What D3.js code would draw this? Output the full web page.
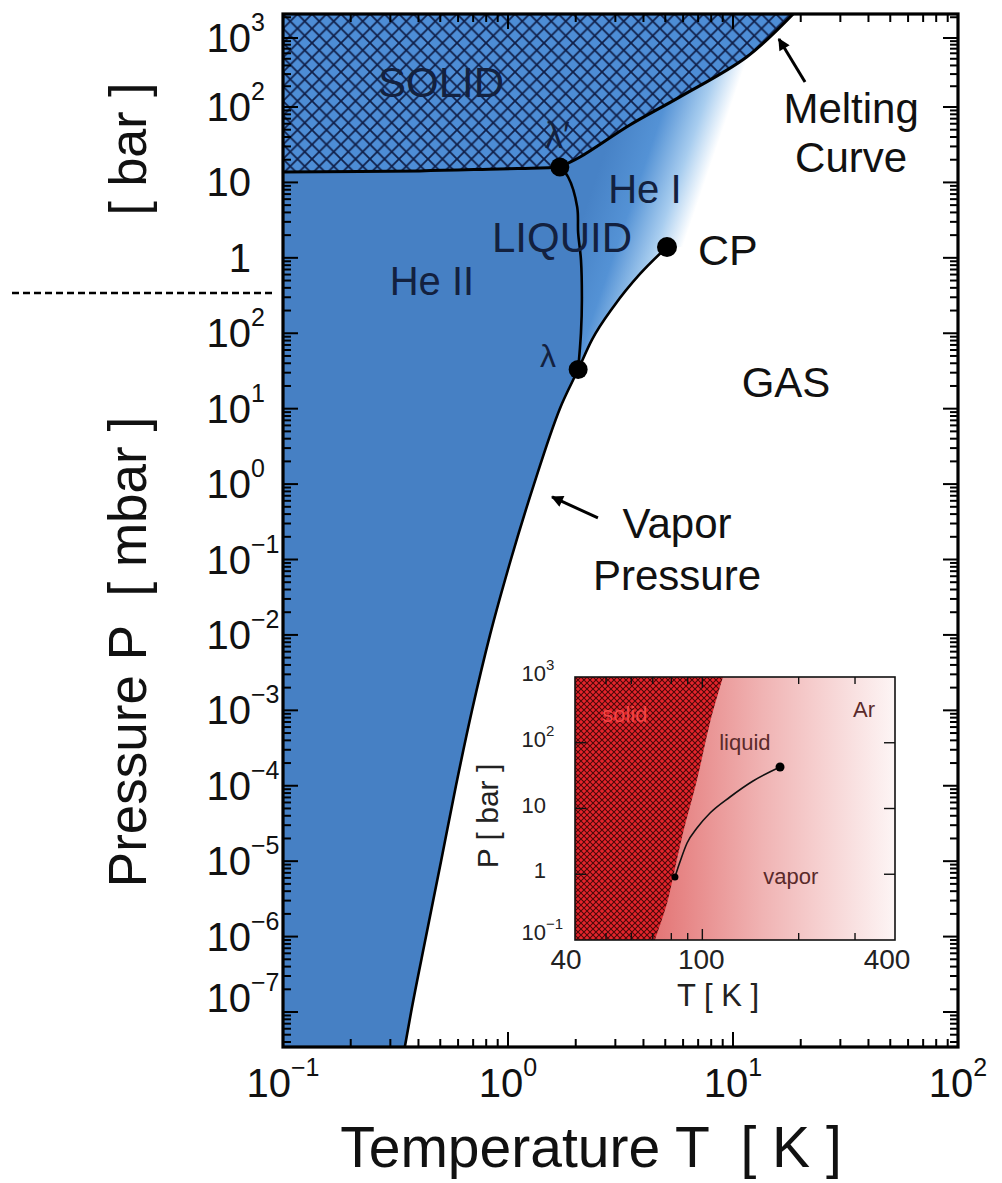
<!DOCTYPE html>
<html><head><meta charset="utf-8">
<script src="https://cdn.jsdelivr.net/npm/d3@7"></script>
<style>
body{margin:0;background:#fff}
svg{display:block}
text{font-family:"Liberation Sans",Arial,Helvetica,sans-serif}
</style>
</head><body>
<svg id="c" width="1002" height="1183"></svg>
<script>
// ---------------- DATA (T in K, P in bar) ----------------
// He-4 saturated vapour pressure curve, from below the plot floor up to the critical point
const vaporT = [0.345, 0.371, 0.432, 0.504, 0.587, 0.692, 0.832, 1.03, 1.305, 1.70, 2.05, 2.36, 2.96, 3.86, 5.09];
const vaporP = [3.0e-11, 1e-10, 1e-9, 1e-8, 1e-7, 1e-6, 1e-5, 1e-4, 1e-3, 1e-2, 0.033, 0.0815, 0.230, 0.611, 1.39];
const lambdaIndex = 10; // vapor point that is the lambda point
// lambda line from lambda' (on melting curve) down to lambda (on vapor curve)
const lambdaT = [1.70, 1.85, 2.03, 2.05, 2.11, 2.13, 2.11, 2.05];
const lambdaP = [16.0, 11.8, 4.73, 2.14, 0.94, 0.277, 0.101, 0.033];
// melting curve: flat part (He II / solid) and rising part (He I / solid)
const meltLowT = [0.1, 0.406, 0.921, 1.39, 1.70];
const meltLowP = [13.75, 14.2, 15.1, 15.5, 16.0];
const meltHighT = [1.70, 2.09, 3.48, 5.81, 11.5, 18.5];
const meltHighP = [16.0, 21.7, 57.7, 140, 530, 2230];
// special points
const pointNames = ["lambda'", "lambda", "CP"];
const pointT = [1.70, 2.05, 5.09];
const pointP = [16.0, 0.033, 1.39];

// axis ticks
const xTickValues = [0.1, 1, 10, 100];
const xTickExp = ["\u22121", "0", "1", "2"];
const yTickValues = [1e3, 1e2, 1e1, 1, 1e-1, 1e-2, 1e-3, 1e-4, 1e-5, 1e-6, 1e-7, 1e-8, 1e-9, 1e-10];
const yTickBase = ["10", "10", "10", "1", "10", "10", "10", "10", "10", "10", "10", "10", "10", "10"];
const yTickExp = ["3", "2", "", "", "2", "1", "0", "\u22121", "\u22122", "\u22123", "\u22124", "\u22125", "\u22126", "\u22127"];

// region / annotation labels (data coordinates of text baseline)
const labelText = ["SOLID", "He II", "LIQUID", "He I", "CP", "GAS", "Melting", "Curve", "Vapor", "Pressure", "\u03bb\u2032", "\u03bb"];
const labelT = [0.504, 0.459, 1.738, 4.06, 6.99, 17.2, 33.5, 33.5, 5.64, 5.64, 1.46, 1.388];
const labelP = [140, 0.322, 1.197, 5.34, 0.805, 0.0143, 61.4, 13.7, 1.94e-4, 3.96e-5, 28.6, 0.0358];
// arrows [tail, head]
const arrowT = [[20.9, 16.0], [2.51, 1.57]];
const arrowP = [[230, 967], [3.56e-4, 6.76e-4]];

// Argon inset
const arMeltT = [71.1, 77.6, 80.9, 87.0, 96.2, 105.6, 116];
const arMeltP = [0.1, 0.366, 0.877, 4.24, 27.1, 200, 1000];
const arVapT = [82.1, 85.1, 89.6, 96.2, 105.7, 122.0, 144.0, 174.9];
const arVapP = [0.908, 1.536, 2.99, 5.05, 8.54, 14.96, 26.2, 42.8];
const arPointT = [82.1, 174.9];
const arPointP = [0.908, 42.8];
const arXTickValues = [40, 100, 400];
const arXTickLabels = ["40", "100", "400"];
const arXMinor = [50, 60, 70, 80, 90, 200, 300];
const arYTickValues = [0.1, 1, 10, 100, 1000];
const arYTickBase = ["10", "1", "10", "10", "10"];
const arYTickExp = ["\u22121", "", "", "2", "3"];
const arLabelText = ["solid", "liquid", "Ar", "vapor"];
const arLabelT = [57.3, 135.8, 320, 189];
const arLabelP = [207, 77.6, 246, 0.711];

// ---------------- LAYOUT ----------------
const svg = d3.select("#c");
const P = {left: 283, right: 958, top: 14, bottom: 1047};
const x = d3.scaleLog().domain([0.1, 100]).range([P.left, P.right]);
const y = d3.scaleLog().domain([Math.pow(10, 3.348), 1e3, 1e2, Math.pow(10, -10.464)]).range([P.top, 38, 107, P.bottom]);
const pAbove = Math.pow(10, 3.6), pBelow = Math.pow(10, -10.8);
const navy = "#13213f";

const zip = (a, b) => a.map((v, i) => [v, b[i]]);
const curve = d3.line().x(d => x(d[0])).y(d => y(d[1])).curve(d3.curveCatmullRom.alpha(0.5));
const mono = d3.line().x(d => x(d[0])).y(d => y(d[1])).curve(d3.curveMonotoneX);
const straight = d3.line().x(d => x(d[0])).y(d => y(d[1]));
const join = parts => parts.map((p, i) => i ? p.replace(/^M/, "L") : p).join("") + "Z";
const last = a => a[a.length - 1];

const vapor = zip(vaporT, vaporP);
const vaporLow = vapor.slice(0, lambdaIndex + 1);
const vaporHigh = vapor.slice(lambdaIndex);
const lam = zip(lambdaT, lambdaP);
const meltLow = zip(meltLowT, meltLowP);
const meltHigh = zip(meltHighT, meltHighP);

const defs = svg.append("defs");
defs.append("clipPath").attr("id", "plotClip").append("rect")
  .attr("x", P.left).attr("y", P.top).attr("width", P.right - P.left).attr("height", P.bottom - P.top);

// hatch for solid
const hs = 14.5;
const hatch = defs.append("pattern").attr("id", "hatch").attr("patternUnits", "userSpaceOnUse")
  .attr("width", hs).attr("height", hs).attr("x", P.left).attr("y", P.top);
hatch.append("rect").attr("width", hs).attr("height", hs).attr("fill", "#4d8dd6");
hatch.append("path").attr("d", `M0,0L${hs},${hs}M${hs},0L0,${hs}`)
  .attr("stroke", "#10204a").attr("stroke-width", 1.8).attr("stroke-linecap", "square");

// He I gradient
const g1 = defs.append("linearGradient").attr("id", "heI").attr("gradientUnits", "userSpaceOnUse")
  .attr("x1", x(2.41)).attr("y1", y(9.8)).attr("x2", x(6.64)).attr("y2", y(3.48));
[[0, "#4782c6"], [0.4, "#5492d5"], [0.75, "#a8cdef"], [1, "#ffffff"]].forEach(s =>
  g1.append("stop").attr("offset", s[0]).attr("stop-color", s[1]));

const main = svg.append("g").attr("clip-path", "url(#plotClip)");

// He I region (gradient)
main.append("path").attr("fill", "url(#heI)").attr("d", join([
  mono(vaporHigh),
  straight([last(vaporHigh), [100, last(vaporHigh)[1]], [100, pAbove], [last(meltHighT), pAbove], last(meltHigh)]),
  curve(meltHigh.slice().reverse()),
  straight([meltHigh[0], [1.0, meltHigh[0][1]], [1.0, vaporHigh[0][1]], vaporHigh[0]])
]));
// He II region
main.append("path").attr("fill", "#4680c4").attr("d", join([
  straight([[0.1, pBelow], [vaporLow[0][0], pBelow], vaporLow[0]]),
  mono(vaporLow),
  curve(lam.slice().reverse()),
  curve(meltLow.slice().reverse()),
  straight([meltLow[0], [0.1, pBelow]])
]));
// Solid region
main.append("path").attr("fill", "url(#hatch)").attr("d", join([
  straight([[0.1, pAbove], [last(meltHighT), pAbove], last(meltHigh)]),
  curve(meltHigh.slice().reverse()),
  curve(meltLow.slice().reverse()),
  straight([meltLow[0], [0.1, pAbove]])
]));

// curves
main.append("path").attr("d", curve(meltLow)).attr("fill", "none").attr("stroke", "#000").attr("stroke-width", 3);
main.append("path").attr("d", curve(meltHigh)).attr("fill", "none").attr("stroke", "#000").attr("stroke-width", 3);
main.append("path").attr("d", curve(lam)).attr("fill", "none").attr("stroke", "#000").attr("stroke-width", 2.6);
main.append("path").attr("d", mono(vapor)).attr("fill", "none").attr("stroke", "#000").attr("stroke-width", 2.6);

// points
main.selectAll("circle.pt").data(pointT).join("circle").attr("class", "pt")
  .attr("cx", d => x(d)).attr("cy", (d, i) => y(pointP[i])).attr("r", (d, i) => i === 2 ? 10 : 9.5).attr("fill", "#000");

// frame
svg.append("rect").attr("x", P.left).attr("y", P.top).attr("width", P.right - P.left).attr("height", P.bottom - P.top)
  .attr("fill", "none").attr("stroke", "#000").attr("stroke-width", 3.2);

// ticks
const tg = svg.append("g").attr("stroke", "#000").attr("stroke-width", 2);
const yMinor = [];
for (let n = -11; n <= 3; n++) for (let k = 2; k <= 9; k++) {
  const v = k * Math.pow(10, n);
  if (y(v) > P.top + 1 && y(v) < P.bottom - 1) yMinor.push(v);
}
const xMinor = [];
for (let n = -1; n <= 1; n++) for (let k = 2; k <= 9; k++) xMinor.push(k * Math.pow(10, n));
const majL = 15, minL = 8;
yTickValues.forEach(v => {
  tg.append("line").attr("x1", P.left).attr("x2", P.left + majL).attr("y1", y(v)).attr("y2", y(v));
  tg.append("line").attr("x1", P.right).attr("x2", P.right - majL).attr("y1", y(v)).attr("y2", y(v));
});
yMinor.forEach(v => {
  tg.append("line").attr("x1", P.left).attr("x2", P.left + minL).attr("y1", y(v)).attr("y2", y(v));
  tg.append("line").attr("x1", P.right).attr("x2", P.right - minL).attr("y1", y(v)).attr("y2", y(v));
});
xTickValues.forEach(v => {
  tg.append("line").attr("x1", x(v)).attr("x2", x(v)).attr("y1", P.bottom).attr("y2", P.bottom - majL);
  tg.append("line").attr("x1", x(v)).attr("x2", x(v)).attr("y1", P.top).attr("y2", P.top + majL);
});
xMinor.forEach(v => {
  tg.append("line").attr("x1", x(v)).attr("x2", x(v)).attr("y1", P.bottom).attr("y2", P.bottom - minL);
  tg.append("line").attr("x1", x(v)).attr("x2", x(v)).attr("y1", P.top).attr("y2", P.top + minL);
});

// y tick labels
const labG = svg.append("g").attr("fill", "#111");
yTickValues.forEach((v, i) => {
  const by = y(v) + 14 - (i === yTickValues.length - 1 ? 14 : 0);
  labG.append("text").attr("x", 251).attr("y", by).attr("text-anchor", "end").attr("font-size", 40).text(yTickBase[i]);
  if (yTickExp[i]) labG.append("text").attr("x", 251).attr("y", by - 21).attr("font-size", 25).text(yTickExp[i]);
});
// x tick labels
xTickValues.forEach((v, i) => {
  const t = labG.append("text").attr("x", x(v)).attr("y", 1097).attr("text-anchor", "middle").attr("font-size", 40);
  t.append("tspan").text("10");
  t.append("tspan").attr("dy", -21).attr("font-size", 25).text(xTickExp[i]);
});

// axis titles
svg.append("text").attr("transform", "translate(146,652) rotate(-90)").attr("text-anchor", "middle")
  .attr("font-size", 53).attr("fill", "#111").attr("xml:space", "preserve").text("Pressure P  [ mbar ]");
svg.append("text").attr("transform", "translate(146,149) rotate(-90)").attr("text-anchor", "middle")
  .attr("font-size", 52).attr("fill", "#111").attr("xml:space", "preserve").text("[ bar ]");
svg.append("text").attr("x", 591).attr("y", 1167).attr("text-anchor", "middle")
  .attr("font-size", 57).attr("fill", "#111").attr("xml:space", "preserve").text("Temperature T  [ K ]");
// dashed separator
svg.append("line").attr("x1", 12).attr("x2", 274).attr("y1", y(0.342)).attr("y2", y(0.342))
  .attr("stroke", "#000").attr("stroke-width", 2.6).attr("stroke-dasharray", "7,4");

// region labels
const labStyle = [
  {s: 42, c: navy, a: "middle"}, {s: 40, c: navy, a: "middle"}, {s: 42, c: navy, a: "middle"}, {s: 40, c: navy, a: "middle"},
  {s: 43, c: "#111", a: "start"}, {s: 42, c: "#111", a: "middle"}, {s: 42, c: "#111", a: "middle"}, {s: 42, c: "#111", a: "middle"},
  {s: 42, c: "#111", a: "middle"}, {s: 42, c: "#111", a: "middle"}, {s: 36, c: navy, a: "start"}, {s: 32, c: navy, a: "start"}
];
labelText.forEach((t, i) => {
  svg.append("text").attr("x", x(labelT[i])).attr("y", y(labelP[i])).attr("text-anchor", labStyle[i].a)
    .attr("font-size", labStyle[i].s).attr("fill", labStyle[i].c).text(t);
});

// arrows
defs.append("marker").attr("id", "ah").attr("viewBox", "0 0 10 10").attr("refX", 9).attr("refY", 5)
  .attr("markerWidth", 5).attr("markerHeight", 4).attr("orient", "auto").attr("markerUnits", "strokeWidth")
  .append("path").attr("d", "M0,0L10,5L0,10Z").attr("fill", "#000");
arrowT.forEach((a, i) => {
  svg.append("line").attr("x1", x(a[0])).attr("y1", y(arrowP[i][0])).attr("x2", x(a[1])).attr("y2", y(arrowP[i][1]))
    .attr("stroke", "#000").attr("stroke-width", 3).attr("marker-end", "url(#ah)");
});

// ---------------- INSET (Argon) ----------------
const I = {left: 575, right: 895, top: 677, bottom: 940};
const xi = d3.scaleLog().domain([40, 400]).range([I.left, I.right]);
const yi = d3.scaleLog().domain([0.1, 1000]).range([I.bottom, I.top]);
const icurve = d3.line().x(d => xi(d[0])).y(d => yi(d[1])).curve(d3.curveCatmullRom.alpha(0.5));
const imono = d3.line().x(d => xi(d[0])).y(d => yi(d[1])).curve(d3.curveMonotoneX);
const istraight = d3.line().x(d => xi(d[0])).y(d => yi(d[1]));
const arMelt = zip(arMeltT, arMeltP), arVap = zip(arVapT, arVapP);

defs.append("clipPath").attr("id", "insetClip").append("rect")
  .attr("x", I.left).attr("y", I.top).attr("width", I.right - I.left).attr("height", I.bottom - I.top);
const rp = 6;
const red = defs.append("pattern").attr("id", "redHatch").attr("patternUnits", "userSpaceOnUse")
  .attr("width", rp).attr("height", rp).attr("x", I.left).attr("y", I.top);
red.append("rect").attr("width", rp).attr("height", rp).attr("fill", "#e4242c");
red.append("path").attr("d", `M0,0L${rp},${rp}M${rp},0L0,${rp}`).attr("stroke", "#4a0707").attr("stroke-width", 1.05);
const g2 = defs.append("linearGradient").attr("id", "arGrad").attr("gradientUnits", "userSpaceOnUse")
  .attr("x1", xi(70)).attr("y1", 0).attr("x2", xi(400)).attr("y2", 0);
[[0, "#e37474"], [0.45, "#f0b3b3"], [1, "#fdf5f5"]].forEach(s =>
  g2.append("stop").attr("offset", s[0]).attr("stop-color", s[1]));

const ins = svg.append("g").attr("clip-path", "url(#insetClip)");
ins.append("rect").attr("x", I.left).attr("y", I.top).attr("width", I.right - I.left).attr("height", I.bottom - I.top).attr("fill", "url(#arGrad)");
ins.append("path").attr("fill", "url(#redHatch)").attr("d", join([
  istraight([[40, 0.1], arMelt[0]]),
  icurve(arMelt),
  istraight([last(arMelt), [40, 1000]])
]));
ins.append("path").attr("d", imono(arVap)).attr("fill", "none").attr("stroke", "#111").attr("stroke-width", 1.6);
ins.selectAll("circle").data(arPointT).join("circle").attr("cx", d => xi(d)).attr("cy", (d, i) => yi(arPointP[i]))
  .attr("r", (d, i) => i ? 4.5 : 3.5).attr("fill", "#000");
arLabelText.forEach((t, i) => {
  ins.append("text").attr("x", xi(arLabelT[i])).attr("y", yi(arLabelP[i])).attr("text-anchor", "middle")
    .attr("font-size", 22).attr("fill", i === 0 ? "#f24545" : "#5a2a2a").text(t);
});
svg.append("rect").attr("x", I.left).attr("y", I.top).attr("width", I.right - I.left).attr("height", I.bottom - I.top)
  .attr("fill", "none").attr("stroke", "#111").attr("stroke-width", 1.6);
const itg = svg.append("g").attr("stroke", "#111").attr("stroke-width", 1.4);
[1, 10, 100].forEach(v => {
  itg.append("line").attr("x1", I.left).attr("x2", I.left + 11).attr("y1", yi(v)).attr("y2", yi(v));
  itg.append("line").attr("x1", I.right).attr("x2", I.right - 11).attr("y1", yi(v)).attr("y2", yi(v));
});
[100].forEach(v => {
  itg.append("line").attr("x1", xi(v)).attr("x2", xi(v)).attr("y1", I.bottom).attr("y2", I.bottom - 11);
  itg.append("line").attr("x1", xi(v)).attr("x2", xi(v)).attr("y1", I.top).attr("y2", I.top + 11);
});
arXMinor.forEach(v => {
  itg.append("line").attr("x1", xi(v)).attr("x2", xi(v)).attr("y1", I.bottom).attr("y2", I.bottom - 7);
  itg.append("line").attr("x1", xi(v)).attr("x2", xi(v)).attr("y1", I.top).attr("y2", I.top + 7);
});
const arXdx = [-9, -1, -8];
arXTickValues.forEach((v, i) => {
  svg.append("text").attr("x", xi(v) + arXdx[i]).attr("y", 969).attr("text-anchor", "middle")
    .attr("font-size", 28).attr("fill", "#222").text(arXTickLabels[i]);
});
arYTickValues.forEach((v, i) => {
  const by = yi(v) + (i === 0 ? 0 : 4);
  svg.append("text").attr("x", 546).attr("y", by).attr("text-anchor", "end").attr("font-size", 22).attr("fill", "#222").text(arYTickBase[i]);
  if (arYTickExp[i]) svg.append("text").attr("x", 546).attr("y", by - 11).attr("font-size", 15).attr("fill", "#222").text(arYTickExp[i]);
});
svg.append("text").attr("x", 718).attr("y", 1006).attr("text-anchor", "middle").attr("font-size", 31)
  .attr("fill", "#222").attr("xml:space", "preserve").text("T [ K ]");
svg.append("text").attr("transform", "translate(498,816) rotate(-90)").attr("text-anchor", "middle").attr("font-size", 30)
  .attr("fill", "#222").attr("xml:space", "preserve").text("P [ bar ]");
</script>
</body></html>
